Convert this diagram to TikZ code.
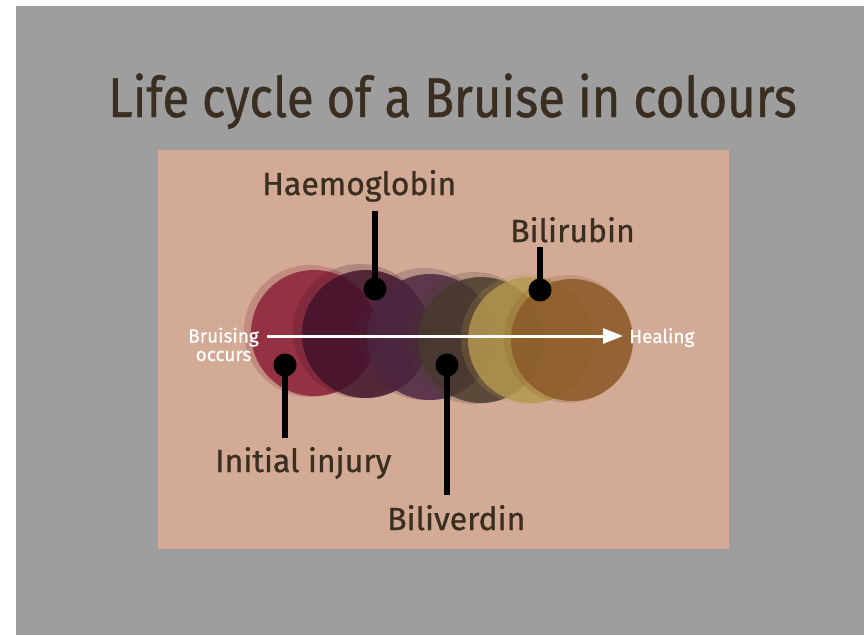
\documentclass[tikz,border=0pt]{standalone}
\usepackage{fontspec}
\setmainfont{Fira Sans}[FakeBold=0.8]
\newfontfamily\titlefont{Fira Sans}[FakeStretch=0.875, FakeBold=0.8]
\usetikzlibrary{arrows.meta}
\definecolor{bggray}{HTML}{9E9E9E}
\definecolor{panel}{HTML}{D2AA96}
\definecolor{ink}{HTML}{3A2E20}
\definecolor{cred}{HTML}{8A1E36}
\definecolor{cplum}{HTML}{40122A}
\definecolor{cmauve}{HTML}{4A2640}
\definecolor{colive}{HTML}{483A2C}
\definecolor{cyell}{HTML}{B49850}
\definecolor{cbrown}{HTML}{8A5826}
\tikzset{
  x=1pt, y=-1pt,
  blob/.style={fill=#1, fill opacity=0.82, draw=none},
  halo/.style={fill=#1, fill opacity=0.22, draw=none},
  dot/.style={circle, fill=black, minimum size=23pt, inner sep=0pt},
  stem/.style={line width=5.5pt, black},
  lbl/.style={text=ink, font=\fontsize{32}{36}\selectfont, inner sep=0pt},
  side/.style={text=white, font=\fontsize{19}{18.5}\selectfont, inner sep=0pt}
}
\begin{document}
\begin{tikzpicture}
\useasboundingbox (0,0) rectangle (866,635);
\fill[white] (0,0) rectangle (866,635);
\fill[bggray] (16,6) rectangle (864,635);
\fill[panel] (158,150) rectangle (729,549);
\node[anchor=base west, text=ink, font=\titlefont\fontsize{56}{60}\selectfont, inner sep=0pt] (title) at (108,117) {Life cycle of a Bruise in colours};
% circles
\fill[halo=cred] (310,331) circle (66);
\fill[blob=cred] (314,333) circle (63);
\fill[halo=cplum] (360,331) circle (67);
\fill[blob=cplum] (366,334) circle (64);
\fill[halo=cmauve] (424,334) circle (66);
\fill[blob=cmauve] (430,337) circle (63);
\fill[halo=colive] (474,338) circle (66);
\fill[blob=colive] (481,340) circle (63);
\fill[halo=cyell] (526,339) circle (65);
\fill[blob=cyell] (531,340) circle (63);
\fill[halo=cbrown] (568,339) circle (64);
\fill[blob=cbrown] (572,340) circle (61);
% arrow
\node[side, align=center, anchor=base east] (start) at (259,361) {Bruising\\occurs};
\node[side, anchor=base west] (end) at (629,343) {Healing};
\coordinate (a1) at (267,336);
\coordinate (a2) at (623,336);
\draw[white, line width=3pt, -{Triangle[length=20pt,width=15pt]}] (a1) -- (a2);
% markers
\node[dot] (dh) at (375,289) {};
\node[dot] (dr) at (540,290) {};
\node[dot] (di) at (285,365) {};
\node[dot] (dv) at (447,365) {};
\coordinate (eh) at (375,211);
\coordinate (er) at (540,247);
\coordinate (ei) at (285,438);
\coordinate (ev) at (447,495);
\draw[stem] (dh.center) -- (eh);
\draw[stem] (dr.center) -- (er);
\draw[stem] (di.center) -- (ei);
\draw[stem] (dv.center) -- (ev);
\node[lbl, anchor=base west] (lh) at (262,195) {Haemoglobin};
\node[lbl, anchor=base west] (lr) at (510,242) {Bilirubin};
\node[lbl, anchor=base west] (li) at (215,472) {Initial injury};
\node[lbl, anchor=base west] (lv) at (387,530) {Biliverdin};
\end{tikzpicture}
\end{document}
